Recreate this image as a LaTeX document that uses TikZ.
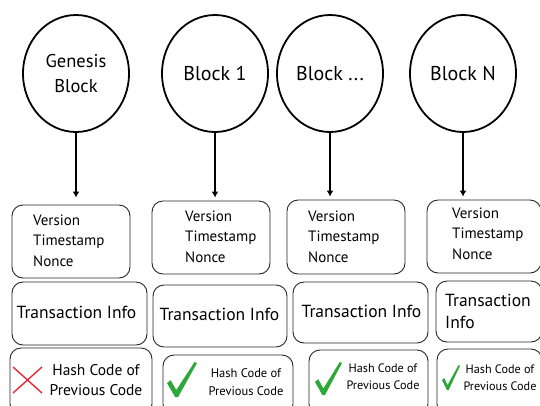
\documentclass[tikz,border=0pt]{standalone}
\usepackage{fontspec}
\setmainfont{PT Sans}
\usetikzlibrary{shapes.geometric,arrows.meta}

\definecolor{tickgreen}{RGB}{44,168,56}
\definecolor{crossred}{RGB}{232,42,52}

% green brush tick: left edge, top edge, width, height
\newcommand{\oktick}[4]{%
  \begin{scope}[shift={(#1,#2)},xscale=#3,yscale=#4]
    \fill[tickgreen] (0,0.6) -- (0.12,0.52) -- (0.31,0.8) -- (0.92,0)
      -- (1,0.03) -- (0.37,1) -- (0.27,1) -- cycle;
  \end{scope}}

\begin{document}
\begin{tikzpicture}[x=1pt,y=-1pt,
    blk/.style={ellipse, draw, line width=1.8pt, minimum width=106pt,
      minimum height=117pt, inner sep=0pt, align=center},
    box/.style={draw=black!85, line width=0.9pt, rounded corners=11pt},
    txt/.style={inner sep=0pt, font=\fontsize{15}{18}\selectfont},
    arr/.style={-{Latex[length=6pt,width=7pt]}, line width=1.3pt, shorten >=3pt}]
  \useasboundingbox (0,0) rectangle (540,405);
  \clip (0,0) rectangle (540,405);

  % the chain
  \node[blk, font=\fontsize{18.5}{25}\selectfont] (g1) at (76,73.5) {Genesis\\Block};
  \node[blk, font=\fontsize{20}{24}\selectfont] (g2) at (215,73.5) {Block 1};
  \node[blk, font=\fontsize{20}{24}\selectfont] (g3) at (330,73.5) {Block ...};
  \node[blk, font=\fontsize{20}{24}\selectfont] (g4) at (463,73.5) {Block N};

  % header boxes
  \node[box, minimum width=118pt, minimum height=73pt] (v1) at (71,241.5) {};
  \node[box, minimum width=118pt, minimum height=73pt] (v2) at (211,237.5) {};
  \node[box, minimum width=118pt, minimum height=74pt] (v3) at (346,237) {};
  \node[box, minimum width=114pt, minimum height=73pt] (v4) at (484,236.5) {};

  \foreach \n/\x/\y in {1/33/225, 2/185/221, 3/308/221, 4/452/218} {
    \node[txt, anchor=base west] (ver\n) at (\x,\y) {Version};
    \node[txt, anchor=base west] (tim\n) at (\x,\y+20.5) {Timestamp};
    \node[txt, anchor=base west] (non\n) at (\x,\y+41) {Nonce};
  }

  % transaction boxes
  \node[box, minimum width=135pt, minimum height=63pt] (t1) at (79.5,313.5) {};
  \node[box, minimum width=134pt, minimum height=62pt] (t2) at (220,316) {};
  \node[box, minimum width=135pt, minimum height=61pt] (t3) at (360.5,312.5) {};
  \node[box, minimum width=106pt, minimum height=61pt] (t4) at (489,311.5) {};

  \begin{scope}[every node/.style={txt, font=\fontsize{17.5}{22}\selectfont}]
    \node[anchor=base] (ti1) at (76.5,318) {Transaction Info};
    \node[anchor=base] (ti2) at (219.5,320) {Transaction Info};
    \node[anchor=base] (ti3) at (361.5,317) {Transaction Info};
    \node[anchor=base west] (ti4) at (445,306) {Transaction};
    \node[anchor=base west] (ti5) at (445,328) {Info};
  \end{scope}

  % hash boxes, cut by the page edge
  \node[box, minimum width=142pt, minimum height=67pt] (h1) at (81,381.5) {};
  \node[box, minimum width=130pt, minimum height=60pt] (h2) at (228,385) {};
  \node[box, minimum width=119pt, minimum height=65pt] (h3) at (368.5,382.5) {};
  \node[box, minimum width=105pt, minimum height=66pt] (h4) at (489.5,382) {};

  \node[txt, anchor=base, font=\fontsize{15.5}{18}\selectfont] (hc1) at (96,375) {Hash Code of};
  \node[txt, anchor=base, font=\fontsize{15.5}{18}\selectfont] (pc1) at (96,395) {Previous Code};
  \node[txt, anchor=base, font=\fontsize{12.5}{15}\selectfont] (hc2) at (246,377) {Hash Code of};
  \node[txt, anchor=base, font=\fontsize{12.5}{15}\selectfont] (pc2) at (246,395) {Previous Code};
  \node[txt, anchor=base, font=\fontsize{12.2}{15}\selectfont] (hc3) at (383,372) {Hash Code of};
  \node[txt, anchor=base, font=\fontsize{12.2}{15}\selectfont] (pc3) at (383,389) {Previous Code};
  \node[txt, anchor=base, font=\fontsize{12.2}{15}\selectfont] (hc4) at (500,373) {Hash Code of};
  \node[txt, anchor=base, font=\fontsize{12.2}{15}\selectfont] (pc4) at (500,390) {Previous Code};

  % marks
  \draw[crossred, line width=1.4pt] (13,367) -- (42,393) (13,393) -- (42,367);
  \oktick{167}{362}{30}{35}
  \oktick{315}{362}{27}{33}
  \oktick{442}{365}{18}{25}

  % arrows down to the headers
  \draw[arr, shorten >=7pt] (g1.south) -- (g1.south |- v1.north);
  \draw[arr] (g2.south) -- (g2.south |- v2.north);
  \draw[arr] (g3.south) -- (g3.south |- v3.north);
  \draw[arr] (g4.south) -- (g4.south |- v4.north);
\end{tikzpicture}
\end{document}
